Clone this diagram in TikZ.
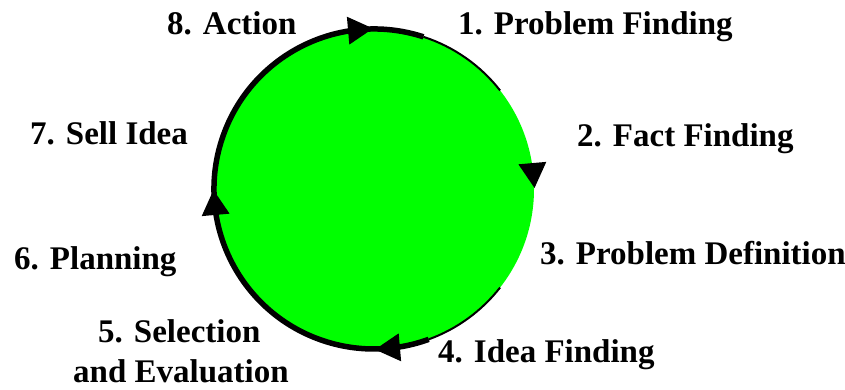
\documentclass[tikz,border=0pt]{standalone}
\usepackage{fontspec}
\setmainfont{Liberation Serif}
\definecolor{brightgreen}{RGB}{0,255,0}
\tikzset{
  lbl/.style={anchor=base west, inner sep=0pt, font=\fontsize{33}{38}\selectfont\bfseries, text=black},
  thickrim/.style={line width=5.5pt, draw=black},
  thinrim/.style={line width=2pt, draw=black},
  headtip/.style={fill=black}
}
\begin{document}
\begin{tikzpicture}[x=1pt,y=1pt]
\useasboundingbox (0,0) rectangle (845,390);
\fill[white] (0,0) rectangle (845,390);
\coordinate (c) at (374,201);
\fill[brightgreen] (c) circle[radius=160];
\draw[thickrim] ([shift={(72:160)}]c) arc[start angle=72, end angle=290, radius=160];
\draw[thinrim] ([shift={(38:160)}]c) arc[start angle=38, end angle=72, radius=160];
\draw[thinrim] ([shift={(290:160)}]c) arc[start angle=290, end angle=322, radius=160];
% arrowheads (clockwise)
\foreach \a in {95,5,-85,185}{
  \fill[headtip, shift={(c)}, shift={(\a:160)}, rotate=\a-90] (13,0) -- (-12,14) -- (-12,-14) -- cycle;
}
\node[lbl] (n8) at (167,355) {8. Action};
\node[lbl] (n1) at (458,355) {1. Problem Finding};
\node[lbl] (n7) at (30,245) {7. Sell Idea};
\node[lbl] (n2) at (577,243) {2. Fact Finding};
\node[lbl] (n6) at (14,120) {6. Planning};
\node[lbl] (n3) at (540,125) {3. Problem Definition};
\node[lbl] (n5a) at (98,47) {5. Selection};
\node[lbl] (n5b) at (73,7) {and Evaluation};
\node[lbl] (n4) at (438,27) {4. Idea Finding};
\end{tikzpicture}
\end{document}
